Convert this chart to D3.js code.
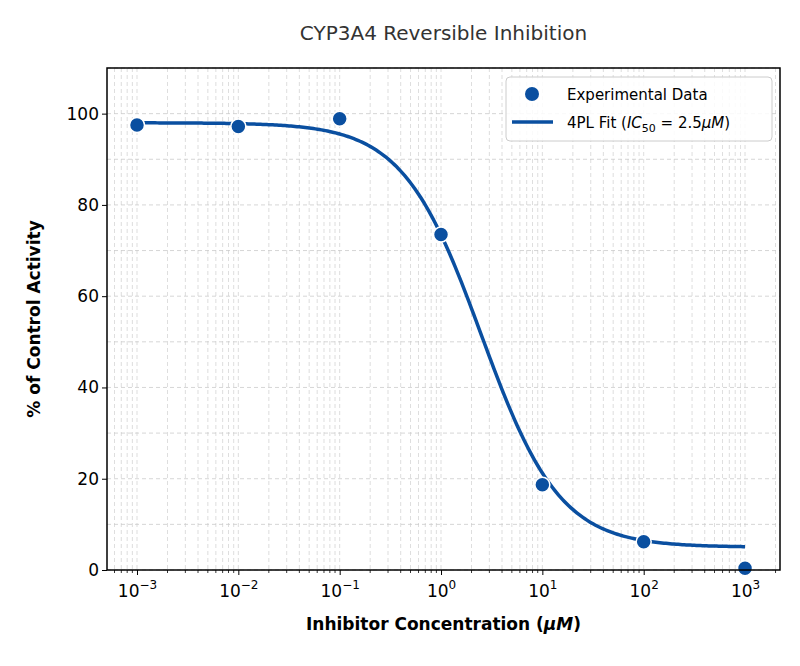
<!DOCTYPE html><html><head><script src="https://cdn.jsdelivr.net/npm/d3@7"></script>
<style>body{margin:0;background:#fff}text{font-family:"DejaVu Sans",sans-serif}</style></head><body>
<script>
const concentrations=[0.001,0.01,0.1,1,10,100,1000];
const activity=[97.5,97.2,98.9,73.5,18.7,6.2,0.4];
const fitTop=98,fitBottom=5,fitIC50=2.5,fitHill=1.12;
const yTicks=[0,20,40,60,80,100];
const xExps=[-3,-2,-1,0,1,2,3];
const W=800,H=666,m={l:107,r:20,t:68,b:96};
const svg=d3.select("body").append("svg").attr("width",W).attr("height",H);
const x=d3.scaleLog().domain([Math.pow(10,-3.296),Math.pow(10,3.345)]).range([m.l,W-m.r]);
const y=d3.scaleLinear().domain([0,110]).range([H-m.b,m.t]);
const g=svg.append("g");
const minor=[];for(let e=-4;e<=3;e++)for(let k=1;k<10;k++){const v=k*Math.pow(10,e);if(v>=x.domain()[0]&&v<=x.domain()[1])minor.push(v);}
g.selectAll(".gx").data(minor).join("line").attr("x1",d=>x(d)).attr("x2",d=>x(d)).attr("y1",m.t).attr("y2",H-m.b)
 .attr("stroke","#ccc").attr("stroke-width",0.8).attr("stroke-dasharray","4,3").attr("opacity",0.8);
g.selectAll(".gy").data([0,10,20,30,40,50,60,70,80,90,100,110]).join("line").attr("x1",m.l).attr("x2",W-m.r).attr("y1",d=>y(d)).attr("y2",d=>y(d))
 .attr("stroke","#ccc").attr("stroke-width",0.8).attr("stroke-dasharray","4,3");
const xa=g.append("g").attr("transform",`translate(0,${H-m.b})`).call(d3.axisBottom(x).tickValues(xExps.map(e=>Math.pow(10,e))).tickSize(5).tickFormat(d=>""));
xa.selectAll(".tick").append("text").attr("y",27).attr("fill","#000").attr("font-size",17).attr("text-anchor","middle")
 .html((d,i)=>`10<tspan dy="-8" font-size="12">${xExps[i]<0?"−":""}${Math.abs(xExps[i])}</tspan>`);
const minorTicks=minor.filter(v=>!xExps.some(e=>Math.abs(Math.pow(10,e)-v)<1e-12));
g.selectAll(".mt").data(minorTicks).join("line").attr("x1",d=>x(d)).attr("x2",d=>x(d)).attr("y1",H-m.b).attr("y2",H-m.b+3).attr("stroke","#000").attr("stroke-width",0.8);
const ya=g.append("g").attr("transform",`translate(${m.l},0)`).call(d3.axisLeft(y).tickValues(yTicks).tickSize(5));
ya.selectAll("text").attr("font-size",17).attr("fill","#000");
svg.selectAll(".domain").remove();
const cx=d3.range(-3,3.001,0.02).map(e=>Math.pow(10,e));
const fit=c=>fitBottom+(fitTop-fitBottom)/(1+Math.pow(c/fitIC50,fitHill));
g.append("path").datum(cx).attr("fill","none").attr("stroke","#0a4fa0").attr("stroke-width",3.5)
 .attr("d",d3.line().x(d=>x(d)).y(d=>y(fit(d))));
g.selectAll(".pt").data(concentrations).join("circle").attr("cx",d=>x(d)).attr("cy",(d,i)=>y(activity[i])).attr("r",7.5)
 .attr("fill","#0a4fa0").attr("stroke","#fff").attr("stroke-width",1.5);
g.append("rect").attr("x",m.l).attr("y",m.t).attr("width",W-m.l-m.r).attr("height",H-m.t-m.b).attr("fill","none").attr("stroke","#000").attr("stroke-width",1.5);
const lg=svg.append("g");
lg.append("rect").attr("x",506).attr("y",77).attr("width",266).attr("height",64).attr("rx",4).attr("fill","#fff").attr("fill-opacity",0.85).attr("stroke","#ccc");
lg.append("circle").attr("cx",532).attr("cy",94).attr("r",7).attr("fill","#0a4fa0");
lg.append("text").attr("x",567).attr("y",100).attr("font-size",15).text("Experimental Data");
lg.append("line").attr("x1",512).attr("x2",553).attr("y1",122).attr("y2",122).attr("stroke","#0a4fa0").attr("stroke-width",3.5);
lg.append("text").attr("x",567).attr("y",128).attr("font-size",15).html('4PL Fit (<tspan font-style="italic">IC</tspan><tspan font-size="11" dy="4">50</tspan><tspan dy="-4"> = 2.5</tspan><tspan font-style="italic">μM</tspan>)');
svg.append("text").attr("x",(m.l+W-m.r)/2).attr("y",40).attr("text-anchor","middle").attr("font-size",20).attr("fill","#333").text("CYP3A4 Reversible Inhibition");
svg.append("text").attr("x",(m.l+W-m.r)/2).attr("y",630).attr("text-anchor","middle").attr("font-size",17).attr("font-weight","bold").html('Inhibitor Concentration (<tspan font-style="italic">μM</tspan>)');
svg.append("text").attr("transform",`translate(40,${(m.t+H-m.b)/2}) rotate(-90)`).attr("text-anchor","middle").attr("font-size",17).attr("font-weight","bold").text("% of Control Activity");
</script></body></html>
